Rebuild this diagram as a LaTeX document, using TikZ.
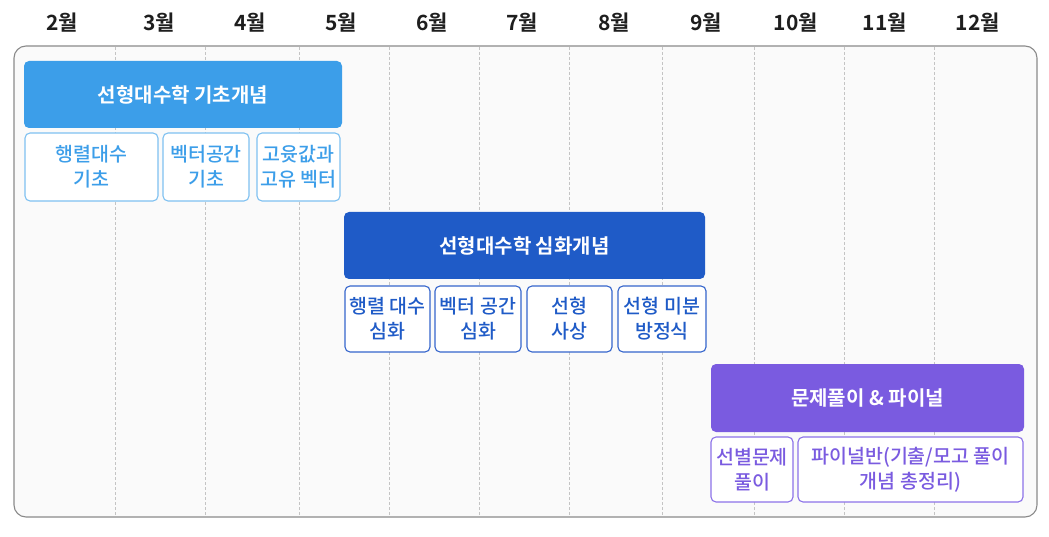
\documentclass[tikz,border=0pt]{standalone}
\usepackage{fontspec}
\setmainfont{Noto Sans CJK KR}[BoldFont={Noto Sans CJK KR Bold}]
\newfontfamily\medfont{Noto Sans CJK KR Medium}
\definecolor{frameC}{HTML}{8A8A8A}
\definecolor{bgC}{HTML}{FAFAFA}
\definecolor{gridC}{HTML}{C4C4C4}
\definecolor{monthC}{HTML}{1E1E1E}
\definecolor{blueA}{HTML}{3C9EE9}
\definecolor{blueAline}{HTML}{7EC1F1}
\definecolor{blueB}{HTML}{1F5BC7}
\definecolor{blueBline}{HTML}{3565CC}
\definecolor{purpC}{HTML}{7A5BE0}
\definecolor{purpCline}{HTML}{8C72E8}
\tikzset{
  month/.style={text=monthC, font=\bfseries\fontsize{21}{24}\selectfont, inner sep=0pt},
  hdr/.style={rounded corners=5pt, inner sep=0pt, text=white, font=\bfseries\fontsize{20}{24}\selectfont},
  sub/.style={rounded corners=5pt, inner sep=0pt, fill=white, line width=1.1pt, align=center, font=\medfont\fontsize{19.5}{25}\selectfont},
  subA/.style={sub, draw=blueAline, text=blueA},
  subB/.style={sub, draw=blueBline, text=blueB},
  subC/.style={sub, draw=purpCline, text=purpC},
  gridline/.style={draw=gridC, line width=0.7pt, dash pattern=on 3pt off 2pt}
}
\begin{document}
\begin{tikzpicture}[x=1pt,y=-1pt]
\useasboundingbox (0,0) rectangle (1049,537);
% frame
\draw[fill=bgC, draw=frameC, line width=1.1pt, rounded corners=12pt] (14,46) rectangle (1037,517);
% grid lines
\foreach \gx in {115,205,299,389,479,569,662,754,844,934}
  \draw[gridline] (\gx,47) -- (\gx,516);
% months
\node[month] (m2) at (62,23) {2월};
\node[month] (m3) at (159,23) {3월};
\node[month] (m4) at (250,23) {4월};
\node[month] (m5) at (341,23) {5월};
\node[month] (m6) at (432,23) {6월};
\node[month] (m7) at (522,23) {7월};
\node[month] (m8) at (614,23) {8월};
\node[month] (m9) at (706,23) {9월};
\node[month] (m10) at (796,23) {10월};
\node[month] (m11) at (885,23) {11월};
\node[month] (m12) at (978,23) {12월};
% group 1
\node[hdr, fill=blueA, minimum width=318pt, minimum height=67pt] (h1) at (183,94.5) {선형대수학 기초개념};
\node[subA, minimum width=133pt, minimum height=68pt] (s1a) at (91.5,167) {행렬대수\\기초};
\node[subA, minimum width=86pt, minimum height=68pt] (s1b) at (206,167) {벡터공간\\기초};
\node[subA, minimum width=83pt, minimum height=68pt] (s1c) at (298.5,167) {고윳값과\\고유 벡터};
% group 2
\node[hdr, fill=blueB, minimum width=361pt, minimum height=67pt] (h2) at (524.5,245.5) {선형대수학 심화개념};
\node[subB, minimum width=85pt, minimum height=66pt] (s2a) at (387.5,319) {행렬 대수\\심화};
\node[subB, minimum width=86pt, minimum height=66pt] (s2b) at (478,319) {벡터 공간\\심화};
\node[subB, minimum width=85pt, minimum height=66pt] (s2c) at (569.5,319) {선형\\사상};
\node[subB, minimum width=88pt, minimum height=66pt] (s2d) at (662,319) {선형 미분\\방정식};
% group 3
\node[hdr, fill=purpC, minimum width=313pt, minimum height=68pt] (h3) at (867.5,398) {문제풀이 \& 파이널};
\node[subC, minimum width=82pt, minimum height=65pt] (s3a) at (752,469.5) {선별문제\\풀이};
\node[subC, minimum width=225pt, minimum height=65pt] (s3b) at (910.5,469.5) {파이널반(기출/모고 풀이\\개념 총정리)};
\end{tikzpicture}
\end{document}
